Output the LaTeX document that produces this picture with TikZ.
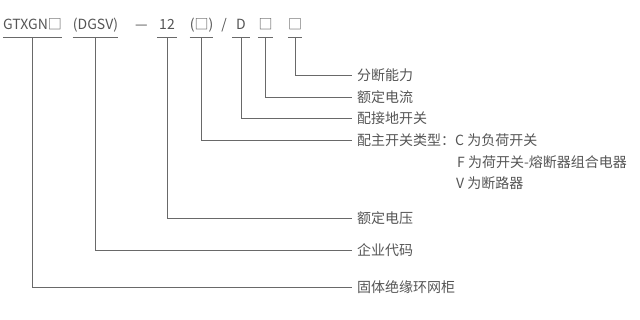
\documentclass[tikz,border=0pt]{standalone}
\usepackage{fontspec}
\setmainfont{Noto Sans CJK SC}
\usetikzlibrary{positioning}
\definecolor{txtgray}{RGB}{85,85,85}
\definecolor{linegray}{RGB}{105,105,105}

\begin{document}
\begin{tikzpicture}[
    x=1pt, y=-1pt,
    code/.style={anchor=base, inner xsep=0pt, inner ysep=0pt, text depth=7.5pt, font=\fontsize{14}{16}\selectfont, text=txtgray},
    sep/.style={anchor=base, inner sep=0pt, font=\fontsize{14}{16}\selectfont, text=txtgray},
    lbl/.style={anchor=west, inner xsep=5pt, inner ysep=0pt, font=\fontsize{14}{16}\selectfont, text=txtgray},
    link/.style={draw=linegray, line width=0.8pt},
  ]
  \useasboundingbox (0,0) rectangle (640,320);

  % model code
  \node[code, minimum width=59pt] (p1) at (32.5, 29.5) {GTXGN□};
  \node[code, minimum width=45pt] (p2) at (95.5, 29.5) {(DGSV)};
  \node[sep] (dash) at (141.5, 29.5) {—};
  \node[code, minimum width=20pt] (p3) at (167, 29.5) {12};
  \node[code, minimum width=23pt] (p4) at (201.5, 29.5) {(□)};
  \node[sep] (slash) at (224, 29.5) {/};
  \node[code, minimum width=18pt] (p5) at (241, 29.5) {D};
  \node[code, minimum width=15pt] (p6) at (265.5, 29.5) {□};
  \node[code, minimum width=14pt] (p7) at (295, 29.5) {□};

  % meanings
  \node[lbl] (l1) at (352, 75) {分断能力};
  \node[lbl] (l2) at (352, 97) {额定电流};
  \node[lbl] (l3) at (352, 118) {配接地开关};
  \node[lbl] (l4) at (352, 140) {配主开关类型：C 为负荷开关};
  \node[lbl] (l4f) at (452, 162) {F 为荷开关-熔断器组合电器};
  \node[lbl] (l4v) at (451, 183) {V 为断路器};
  \node[lbl] (l5) at (352, 218) {额定电压};
  \node[lbl] (l6) at (352, 250) {企业代码};
  \node[lbl] (l7) at (352, 287) {固体绝缘环网柜};

  \foreach \p in {p1,p2,p3,p4,p5,p6,p7}
    \draw[link] (\p.south west) -- (\p.south east);

  \foreach \p/\l in {p1/l7, p2/l6, p3/l5, p4/l4, p5/l3, p6/l2, p7/l1}
    \draw[link] (\p.south) |- (\l.west);
\end{tikzpicture}
\end{document}
